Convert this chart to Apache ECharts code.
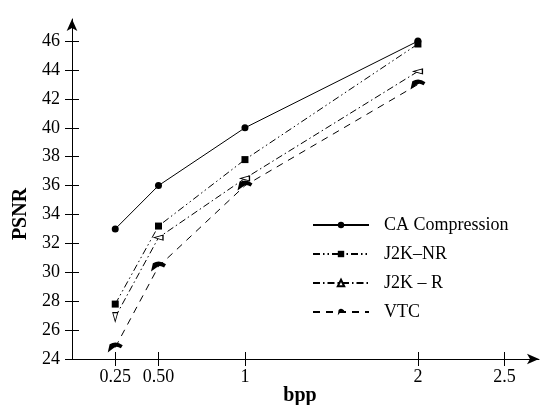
<!DOCTYPE html>
<html>
<head>
<meta charset="utf-8">
<script src="https://cdn.jsdelivr.net/npm/echarts@6/dist/echarts.min.js"></script>
<style>html,body{margin:0;padding:0;background:#fff}#c{width:549px;height:405px}</style>
</head>
<body>
<div id="c"></div>
<script>
const bpp = [0.25, 0.5, 1, 2];
const caCompression = [33.0, 36.0, 40.0, 46.0];
const j2kNR = [27.8, 33.2, 37.8, 45.8];
const j2kR = [26.9, 32.4, 36.5, 43.9];
const vtc = [24.8, 30.4, 36.0, 43.0];
const xTickValues = [0.25, 0.5, 1, 2, 2.5];
const xTickLabels = ['0.25', '0.50', '1', '2', '2.5'];
const yTickValues = [24, 26, 28, 30, 32, 34, 36, 38, 40, 42, 44, 46];
const xName = 'bpp';
const yName = 'PSNR';

const pair = (ys) => bpp.map((x, i) => [x, ys[i]]);
const FONT = 'Liberation Serif';
const vtcPath = 'path://M0,11 L2,3 Q9,-1 16,4 L14,7 Q9,4 6,7 Z';
const W = 549, H = 405;
const GRID = {left: 72, right: 10, top: 19, bottom: 46, outerBoundsMode: 'none'};
const gridW = W - GRID.left - GRID.right;
const gridH = H - GRID.top - GRID.bottom;

const chart = echarts.init(document.getElementById('c'), null, {renderer: 'canvas'});
const lineCommon = {type: 'line', xAxisIndex: 0, yAxisIndex: 0, animation: false, color: '#000'};
chart.setOption({
  animation: false,
  backgroundColor: '#fff',
  grid: GRID,
  legend: {
    orient: 'vertical', left: 307, top: 211, itemWidth: 56, itemHeight: 8, itemGap: 11,
    textStyle: {fontFamily: FONT, fontSize: 18, color: '#000', padding: [0, 0, 0, 10]},
    data: ['CA Compression', 'J2K\u2013NR', 'J2K \u2013 R', 'VTC']
  },
  graphic: [
    {type: 'text', x: 21, y: 214, rotation: Math.PI / 2,
      style: {text: yName, font: 'bold 20px "Liberation Serif"', fill: '#000', align: 'center', verticalAlign: 'middle'}},
    {type: 'text', x: 300, y: 396,
      style: {text: xName, font: 'bold 20px "Liberation Serif"', fill: '#000', align: 'center', verticalAlign: 'middle'}}
  ],
  xAxis: [{
    type: 'value', min: 0, max: 2.7, position: 'bottom',
    axisLine: {show: true, onZero: false, lineStyle: {color: '#000', width: 1}, symbol: ['none', 'arrow'], symbolSize: [8, 12]},
    axisTick: {show: true, inside: false, length: 7, customValues: xTickValues, lineStyle: {color: '#000'}},
    axisLabel: {customValues: xTickValues, margin: 9, fontFamily: FONT, fontSize: 18, color: '#000',
      formatter: (v) => xTickLabels[xTickValues.indexOf(v)] ?? ''},
    splitLine: {show: false}
  }, {
    type: 'value', min: 0, max: 2.7, position: 'top', offset: -gridH,
    axisLine: {show: false, onZero: false},
    axisTick: {show: true, inside: false, length: 7, customValues: xTickValues, lineStyle: {color: '#000', width: 1}},
    axisLabel: {show: false}, splitLine: {show: false}
  }],
  yAxis: [{
    type: 'value', min: 24, max: 47.53, position: 'left',
    axisLine: {show: true, onZero: false, lineStyle: {color: '#000', width: 1}, symbol: ['none', 'arrow'], symbolSize: [8, 12]},
    axisTick: {show: true, inside: false, length: 7, customValues: yTickValues, lineStyle: {color: '#000'}},
    axisLabel: {customValues: yTickValues, margin: 12, fontFamily: FONT, fontSize: 18, color: '#000'},
    splitLine: {show: false}
  }, {
    type: 'value', min: 24, max: 47.53, position: 'right', offset: -gridW,
    axisLine: {show: false, onZero: false},
    axisTick: {show: true, inside: false, length: 7, customValues: yTickValues, lineStyle: {color: '#000', width: 1}},
    axisLabel: {show: false}, splitLine: {show: false}
  }],
  series: [
    Object.assign({}, lineCommon, {
      name: 'CA Compression', data: pair(caCompression),
      symbol: 'circle', symbolSize: 7,
      itemStyle: {color: '#000'}, lineStyle: {color: '#000', width: 1, type: 'solid'}
    }),
    Object.assign({}, lineCommon, {
      name: 'J2K\u2013NR', data: pair(j2kNR),
      symbol: 'rect', symbolSize: 7,
      itemStyle: {color: '#000'}, lineStyle: {color: '#000', width: 1, type: [7, 3, 1.5, 3, 1.5, 3]}
    }),
    Object.assign({}, lineCommon, {
      name: 'J2K \u2013 R', data: pair(j2kR),
      symbol: 'triangle', symbolSize: [5, 9],
      symbolRotate: (v) => (v[0] === bpp[0] ? 180 : 90),
      itemStyle: {color: '#fff', borderColor: '#000', borderWidth: 1}, lineStyle: {color: '#000', width: 1, type: [7, 3, 1.5, 3]}
    }),
    Object.assign({}, lineCommon, {
      name: 'VTC', data: pair(vtc),
      symbol: vtcPath, symbolSize: [15, 10],
      itemStyle: {color: '#000'}, lineStyle: {color: '#000', width: 1, type: [7, 6]}
    })
  ]
});
</script>
</body>
</html>
